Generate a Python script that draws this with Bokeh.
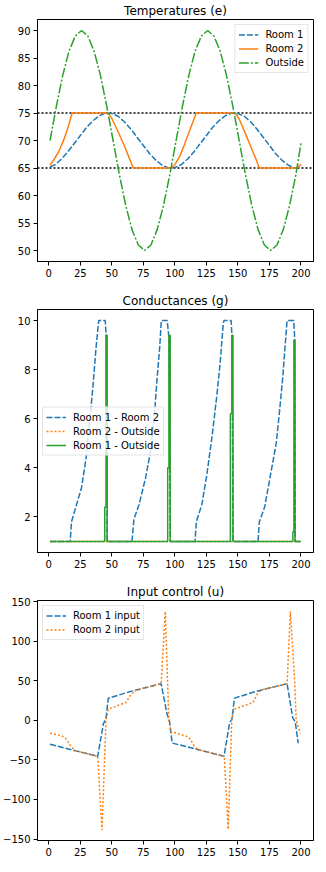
from bokeh.plotting import figure
from bokeh.models import Range1d, FixedTicker, Span
from bokeh.layouts import column
from bokeh.embed import file_html
from bokeh.resources import INLINE

# ---------------- data ----------------
x_ticks = [0, 25, 50, 75, 100, 125, 150, 175, 200]

# Temperatures (e)
temp_t_outside = [1, 6, 11, 16, 21, 26, 31, 36, 41, 46, 51, 56, 61, 66, 71, 76, 81, 86, 91, 96,
                  101, 106, 111, 116, 121, 126, 131, 136, 141, 146, 151, 156, 161, 166, 171, 176,
                  181, 186, 191, 196, 200]
temp_outside = [70.0, 76.2, 81.8, 86.2, 89.0, 90.0, 89.0, 86.2, 81.8, 76.2, 70.0, 63.8, 58.2, 53.8,
                51.0, 50.0, 51.0, 53.8, 58.2, 63.8,
                70.0, 76.2, 81.8, 86.2, 89.0, 90.0, 89.0, 86.2, 81.8, 76.2, 70.0, 63.8, 58.2, 53.8,
                51.0, 50.0, 51.0, 53.8, 58.2, 63.8, 69.5]
temp_t_room1 = [1, 5, 10, 15, 20, 25, 30, 35, 40, 45, 50, 55, 60, 65, 70, 75, 80, 85, 90, 95, 100,
                105, 110, 115, 120, 125, 130, 135, 140, 145, 150, 155, 160, 165, 170, 175, 180,
                185, 190, 195, 200]
temp_room1 = [65.2, 65.6, 66.6, 67.9, 69.4, 70.9, 72.4, 73.6, 74.5, 75.0, 74.9, 74.4, 73.4, 72.1,
              70.6, 69.1, 67.6, 66.4, 65.5, 65.0, 65.1,
              65.6, 66.6, 67.9, 69.4, 70.9, 72.4, 73.6, 74.5, 75.0, 74.9, 74.4, 73.4, 72.1,
              70.6, 69.1, 67.6, 66.4, 65.5, 65.0, 65.2]
temp_t_room2 = [1, 4, 8, 12, 15, 18.5, 46, 48, 50, 55, 60, 64, 67, 97, 100, 104, 108, 112, 117,
                147, 149, 151, 155, 160, 164, 167, 197, 200]
temp_room2 = [65.5, 66.5, 68.0, 70.2, 72.2, 75.0, 75.0, 74.7, 74.0, 71.6, 69.0, 66.7, 65.0, 65.0,
              65.6, 67.2, 69.5, 72.0, 75.0, 75.0, 74.6, 73.9, 71.8, 69.0, 66.8, 65.0, 65.0, 65.7]
comfort_low = 65
comfort_high = 75
temp_y_ticks = [50, 55, 60, 65, 70, 75, 80, 85, 90]

# Conductances (g)
cond_t_12 = [1, 17, 18, 22, 26, 29.6, 32.3, 35, 37.5, 39.6, 44.8, 45.6, 46.3,
             66, 67.5, 71.6, 76.8, 80.8, 83.4, 86, 88.1, 89.2, 93.9, 95.3, 96.3,
             116, 117, 121.4, 125.3, 129.3, 133.2, 135.8, 138.4, 139, 144.6, 145.4, 146.1,
             166, 167, 171.2, 175.1, 180.4, 183, 185.6, 187.5, 189, 194.3, 195.0, 195.5, 200]
cond_12 = [1, 1, 1.8, 2.5, 3.2, 4.4, 5.8, 7.3, 8.9, 10, 10, 9.3, 1,
           1, 1.9, 2.5, 3.6, 4.7, 5.9, 7.7, 9.0, 10, 10, 9.3, 1,
           1, 1.8, 2.5, 3.7, 5.2, 6.9, 8.2, 9.9, 10, 10, 9.3, 1,
           1, 1.8, 2.4, 3.5, 5.0, 6.3, 7.7, 9.0, 10, 10, 9.3, 1, 1]
cond_t_2o = [1, 200]
cond_2o = [1, 1]
cond_t_1o = [1, 44.4, 44.4, 45.4, 45.4, 46.3, 46.3,
             94.3, 94.3, 95.3, 95.3, 96.3, 96.3,
             144.0, 144.0, 145.2, 145.2, 146.1, 146.1,
             193.6, 193.6, 194.4, 194.4, 195.3, 195.3, 200]
cond_1o = [1, 1, 2.4, 2.4, 9.4, 9.4, 1,
           1, 4.0, 4.0, 9.4, 9.4, 1,
           1, 6.2, 6.2, 9.4, 9.4, 1,
           1, 1.4, 1.4, 9.2, 9.2, 1, 1]
cond_y_ticks = [2, 4, 6, 8, 10]

# Input control (u)
u_t_1 = [1, 38.8, 43.3, 45.3, 47.2, 65, 89.1, 93.8, 95.7, 97.8, 139, 143.3, 145.2, 147.3, 165,
         189, 193.5, 195.5, 197.8]
u_1 = [-30.3, -45.5, -4.5, 1.5, 27.8, 36.5, 46.1, 7.9, 0, -28.7, -45.5, -4.0, 1.5, 28.0, 36.8,
       46.3, 3.0, -2.0, -29.0]
u_t_2 = [1, 5, 10, 13, 18, 21, 38.8, 42.2, 45.4, 47.2, 52, 61, 65, 69, 89.1, 92.4, 95.2, 97,
         99, 111, 116, 118, 139.2, 142.3, 145.1, 147, 162, 166, 169, 189, 191.6, 195, 196.2, 199.5]
u_2 = [-16.2, -17.5, -19.5, -22, -34, -38.3, -45.5, -138.4, 0, 14, 17, 22.4, 32, 38, 46.1, 137.5,
       0, -15.5, -15, -21.2, -33.7, -36.9, -45.4, -137.6, 0, 14, 22.4, 35, 38.4, 46.3, 137.5,
       50, 0, -16.5]
u_y_ticks = [-150, -100, -50, 0, 50, 100, 150]

# ---------------- styling helpers ----------------
FONT = "DejaVu Sans"
C_BLUE = "#1f77b4"
C_ORANGE = "#ff7f0e"
C_GREEN = "#2ca02c"


def make_fig(title, yr, top_border, frame_h, bottom_border):
    p = figure(title=title, frame_width=276, frame_height=frame_h,
               x_range=Range1d(-8.95, 209.95), y_range=Range1d(*yr),
               output_backend="svg", toolbar_location=None,
               min_border_left=37, min_border_right=2,
               min_border_top=top_border, min_border_bottom=bottom_border)
    p.title.align = "center"
    p.title.text_font = FONT
    p.title.text_font_size = "12px"
    p.title.text_font_style = "normal"
    p.title.text_color = "black"
    p.title.standoff = 3
    p.grid.visible = False
    p.outline_line_color = "black"
    p.outline_line_width = 1
    p.outline_line_alpha = 1
    p.background_fill_color = "white"
    p.border_fill_color = "white"
    for ax in p.axis:
        ax.axis_line_color = "black"
        ax.major_tick_line_color = "black"
        ax.major_tick_in = 0
        ax.major_tick_out = 4
        ax.minor_tick_line_color = None
        ax.major_label_text_font = FONT
        ax.major_label_text_font_size = "10px"
        ax.major_label_text_color = "black"
        ax.major_label_standoff = 3
    p.xaxis.ticker = FixedTicker(ticks=x_ticks)
    return p


def style_legend(p, loc):
    lg = p.legend[0]
    lg.location = loc
    lg.label_text_font = FONT
    lg.label_text_font_size = "10px"
    lg.label_text_color = "black"
    lg.label_height = 13
    lg.glyph_height = 13
    lg.glyph_width = 20
    lg.label_standoff = 7
    lg.spacing = 1
    lg.padding = 3
    lg.margin = 5
    lg.border_line_color = "#cccccc"
    lg.border_line_width = 1
    lg.background_fill_color = "white"
    lg.background_fill_alpha = 0.8


# ---------------- panel 1 ----------------
p1 = make_fig("Temperatures (e)", (48, 92), 18, 242, 20)
p1.yaxis.ticker = FixedTicker(ticks=temp_y_ticks)
for lvl in (comfort_low, comfort_high):
    p1.add_layout(Span(location=lvl, dimension="width", line_color="black",
                       line_width=1.5, line_dash="2 2", level="underlay"))
p1.line(temp_t_room1, temp_room1, line_color=C_BLUE, line_width=1.5, line_dash="6 2",
        legend_label="Room 1")
p1.line(temp_t_room2, temp_room2, line_color=C_ORANGE, line_width=1.5,
        legend_label="Room 2")
p1.line(temp_t_outside, temp_outside, line_color=C_GREEN, line_width=1.5,
        line_dash="10 2 2 2", legend_label="Outside")
style_legend(p1, "top_right")

# ---------------- panel 2 ----------------
p2 = make_fig("Conductances (g)", (0.55, 10.45), 28, 243, 20)
p2.yaxis.ticker = FixedTicker(ticks=cond_y_ticks)
p2.line(cond_t_12, cond_12, line_color=C_BLUE, line_width=1.5, line_dash="6 2",
        legend_label="Room 1 - Room 2")
p2.line(cond_t_2o, cond_2o, line_color=C_ORANGE, line_width=1.5, line_dash="2 2",
        legend_label="Room 2 - Outside")
p2.line(cond_t_1o, cond_1o, line_color=C_GREEN, line_width=1.5,
        legend_label="Room 1 - Outside")
style_legend(p2, "center_left")

# ---------------- panel 3 ----------------
p3 = make_fig("Input control (u)", (-151.8, 151.3), 28, 240, 17)
p3.yaxis.ticker = FixedTicker(ticks=u_y_ticks)
p3.yaxis.major_label_overrides = {v: ("\u2212" + str(-v)) if v < 0 else str(v) for v in u_y_ticks}
p3.line(u_t_1, u_1, line_color=C_BLUE, line_width=1.5, line_dash="6 2",
        legend_label="Room 1 input")
p3.line(u_t_2, u_2, line_color=C_ORANGE, line_width=1.5, line_dash="2 2",
        legend_label="Room 2 input")
style_legend(p3, "top_left")

layout = column(p1, p2, p3, spacing=0)
open("out.html", "w").write(file_html(layout, INLINE))
